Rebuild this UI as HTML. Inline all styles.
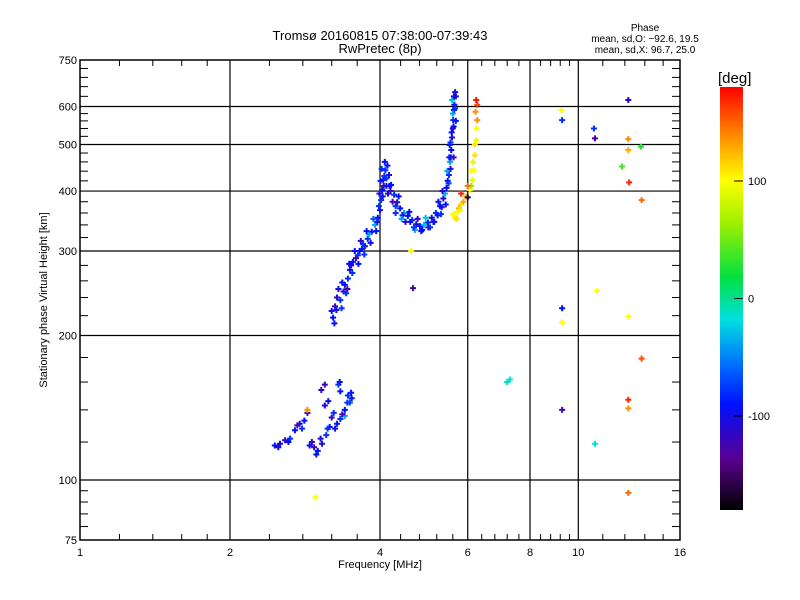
<!DOCTYPE html>
<html><head><meta charset="utf-8"><style>
body{margin:0;background:#fff;}
svg{display:block;font-family:"Liberation Sans",sans-serif;}
</style></head><body>
<svg id="chart" width="800" height="600" viewBox="0 0 800 600" xmlns="http://www.w3.org/2000/svg">
<defs>
<linearGradient id="cbar" x1="0" y1="1" x2="0" y2="0">
<stop offset="0" stop-color="#000000"/>
<stop offset="0.12" stop-color="#5a0090"/>
<stop offset="0.25" stop-color="#0010ff"/>
<stop offset="0.33" stop-color="#0060ff"/>
<stop offset="0.45" stop-color="#00e0e0"/>
<stop offset="0.55" stop-color="#00e040"/>
<stop offset="0.68" stop-color="#a0f000"/>
<stop offset="0.78" stop-color="#ffff00"/>
<stop offset="0.88" stop-color="#ff9000"/>
<stop offset="1" stop-color="#ff0000"/>
</linearGradient>
</defs>
<text x="380" y="40" font-size="13" text-anchor="middle">Tromsø 20160815 07:38:00-07:39:43</text>
<text x="380" y="53" font-size="13" text-anchor="middle">RwPretec (8p)</text>
<g font-size="10" text-anchor="middle">
<text x="645" y="31">Phase</text>
<text x="645" y="42">mean, sd,O: −92.6, 19.5</text>
<text x="645" y="53">mean, sd,X:  96.7, 25.0</text>
</g>
<g id="grid"></g>
<g id="marks"></g>
<g id="axes"></g>
<rect x="80" y="60" width="600" height="480" fill="none" stroke="#000" stroke-width="1.5"/>
<text x="380" y="568" font-size="11" text-anchor="middle">Frequency [MHz]</text>
<text x="0" y="0" font-size="11" text-anchor="middle" transform="translate(47,300) rotate(-90)">Stationary phase Virtual Height [km]</text>
<rect x="720" y="87" width="23" height="423" fill="url(#cbar)"/>
<text x="718" y="83" font-size="15">[deg]</text>
<g id="cbticks" font-size="11"></g>
</svg>
<script>
const xTickLabels=[1,2,4,6,8,10,16];
const xGrid=[2,4,6,8,10];
const xMinor=[1.2,1.4,1.6,1.8,2.4,2.8,3.2,3.6,4.4,4.8,5.2,5.6,6.4,6.8,7.2,7.6,8.4,8.8,9.2,9.6,11.2,12.4,13.6,14.8];
const yTickLabels=[75,100,200,300,400,500,600,750];
const yGrid=[100,200,300,400,500,600];
const yMinor=[80,85,90,95,120,140,160,180,220,240,260,280,320,340,360,380,420,440,460,480,520,540,560,580,630,660,690,720];
const cbTicks=[100,0,-100];
// echoes: frequency (MHz), height (km), phase (deg)
const freqs=[3.22,3.27,3.33,3.38,3.40,3.45,3.48,3.53,3.58,3.61,3.68,3.73,3.78,3.85,3.91,3.96,4.0,4.02,4.04,4.06,4.10,4.14,4.17,4.21,4.27,4.33,4.39,4.47,4.55,4.64,4.73,4.81,4.90,4.99,5.08,5.18,5.28,5.36,5.44,5.50,5.53,5.56,5.58,5.61,5.64,5.66,5.58,5.52,
3.25,3.30,3.42,3.50,3.64,3.70,3.80,3.95,4.05,4.08,4.12,4.20,4.30,4.44,4.60,4.70,4.86,5.00,5.12,5.22,5.32,5.40,5.47,5.55,5.60,5.63,5.68,
5.61,5.72,5.82,5.94,6.06,6.13,6.17,6.20,6.24,6.27,6.27,6.24,5.82,6.0,5.66,5.76,6.10,
2.46,2.52,2.58,2.64,2.70,2.76,2.82,2.86,2.89,2.95,3.0,3.06,3.12,3.17,3.25,3.33,3.40,3.48,3.51,3.10,3.10,3.30,3.33,3.20,3.40,2.86,3.45,
4.66,4.62,9.28,9.25,10.75,10.8,12.6,12.6,12.6,12.24,12.65,13.36,13.4,10.9,9.28,9.28,12.6,13.4,7.29,7.2,9.28,12.6,12.6,10.8,2.97,12.6,
3.20,3.24,3.28,3.35,3.36,3.44,3.47,3.52,3.56,3.62,3.66,3.72,3.76,3.83,3.88,3.93,3.98,3.99,4.01,4.03,4.07,4.09,4.12,4.15,4.18,4.24,4.30,4.36,4.42,4.50,4.58,4.68,4.76,4.84,4.94,5.04,5.14,5.24,5.30,5.34,5.42,5.46,5.49,5.51,5.54,5.57,5.54,5.60,5.62,5.63,5.66,5.68,5.62,
5.65,5.70,5.78,5.88,6.00,6.10,6.15,6.20,6.25,6.22,
2.50,2.62,2.73,2.79,2.92,2.98,3.04,3.14,3.28,3.36,3.44,3.50,3.05,3.15,3.32,3.23];
const heights=[218,226,237,247,255,263,274,285,290,294,303,307,318,329,340,352,365,383,402,422,442,452,432,412,393,379,368,360,355,348,341,338,340,344,352,360,372,386,406,432,460,487,517,562,605,643,619,499,
230,250,245,280,300,310,325,345,390,430,410,400,372,356,345,332,332,336,345,356,370,395,420,470,540,590,630,
358,362,375,390,402,422,442,475,511,562,605,619,395,388,352,368,410,
118,119,121,122,127,131,133,138,118,117,115,119,124,129,128,134,140,145,148,143,158,158,153,135,136,140,150,
251,300,562,590,540,515,619,513,487,450,417,495,383,248,228,213,219,179,162,160,140,147,141,119,92,94,
225,212,240,228,258,250,282,270,300,282,315,295,330,312,350,330,372,395,420,445,410,460,425,395,410,380,360,390,350,345,362,336,350,330,352,336,345,380,358,400,375,440,415,470,445,530,505,580,545,630,595,560,470,
355,350,365,380,410,440,460,500,540,585,
117,120,130,128,120,113,122,128,131,137,145,152,154,146,160,138];
const phases=[-110,-120,-100,-130,-110,-100,-120,-110,-140,-100,-110,-120,-100,-110,-60,-110,-120,-100,-110,-130,-100,-110,-120,-110,-100,-130,-110,-60,-110,-100,-120,-110,-50,-110,-120,-100,-110,-130,-110,-100,-60,-110,-120,-100,-110,-120,-50,-110,
-130,-120,-100,-140,-110,-100,-60,-110,-120,-100,-110,-140,-100,-120,-110,-60,-110,-130,-100,-110,-120,-60,-110,-100,-130,-110,-120,
100,95,110,120,100,90,100,110,95,140,160,175,170,-170,100,130,60,
-110,-120,-130,-100,-110,-120,-110,-130,-110,-140,-110,-120,-100,-110,-120,-100,-110,-90,-110,-120,-140,-100,-110,-130,-60,140,-100,
-140,100,-100,100,-100,-150,-130,140,130,30,170,20,150,100,-110,100,100,160,-40,-30,-140,170,140,-40,100,150,
-120,-110,-130,-100,-110,-140,-110,-100,-120,-110,-130,-100,-110,-120,-90,-110,-100,-120,-110,-100,-130,-110,-100,-120,-110,-140,-100,-110,-60,-120,-110,-100,-130,-110,-50,-100,-120,-110,-100,-130,-110,-60,-100,-110,-120,-110,-100,-60,-110,-120,-100,-110,-130,
100,110,95,130,150,100,90,110,100,140,
-120,-110,-140,-100,-130,-110,-120,-100,-110,-140,-100,-110,-130,-120,-110,-100];

const X0=80,X1=680,Y0=540,Y1=60,NS='http://www.w3.org/2000/svg';
const xS=f=>X0+(X1-X0)*Math.log2(f)/Math.log2(16);
const yS=h=>Y0-(Y0-Y1)*Math.log10(h/75)/Math.log10(10);
const cbY=p=>510-(p+180)/360*423;
function mk(tag,attrs,parent){const e=document.createElementNS(NS,tag);for(const k in attrs)e.setAttribute(k,attrs[k]);parent.appendChild(e);return e;}
const grid=document.getElementById('grid'),axes=document.getElementById('axes'),marks=document.getElementById('marks'),cbt=document.getElementById('cbticks');
xGrid.forEach(v=>{const l=mk('line',{x1:xS(v),x2:xS(v),y1:Y1,y2:Y0,stroke:'#000','stroke-width':1.2},grid);

});
yGrid.forEach(v=>{const l=mk('line',{x1:X0,x2:X1,y1:yS(v),y2:yS(v),stroke:'#000','stroke-width':1.2},grid);

});
xMinor.forEach(v=>{const x=xS(v);
const a=mk('line',{x1:x,x2:x,y1:Y0,y2:Y0-6,stroke:'#000'},axes);


const b=mk('line',{x1:x,x2:x,y1:Y1,y2:Y1+6,stroke:'#000'},axes);

});
yMinor.forEach(v=>{const y=yS(v);
const a=mk('line',{x1:X0,x2:X0+8,y1:y,y2:y,stroke:'#000'},axes);


const b=mk('line',{x1:X1,x2:X1-8,y1:y,y2:y,stroke:'#000'},axes);

});
xTickLabels.forEach(v=>{const t=mk('text',{x:xS(v),y:Y0+16,'font-size':11,'text-anchor':'middle'},axes);t.textContent=v;

});
yTickLabels.forEach(v=>{const t=mk('text',{x:X0-3,y:yS(v)+4,'font-size':11,'text-anchor':'end'},axes);t.textContent=v;

});
cbTicks.forEach(v=>{const y=cbY(v);
const l=mk('line',{x1:734,x2:743,y1:y,y2:y,stroke:'#000'},cbt);


const t=mk('text',{x:748,y:y+4},cbt);t.textContent=v;

});
const stops=[[-180,0,0,0],[-150,90,0,144],[-110,0,16,255],[-85,0,96,255],[-40,0,224,224],[10,0,224,64],[60,160,240,0],[100,255,255,0],[140,255,144,0],[180,255,0,0]];
function col(p){for(let i=1;i<stops.length;i++){if(p<=stops[i][0]){const a=stops[i-1],b=stops[i],t=(p-a[0])/(b[0]-a[0]);
return 'rgb('+[1,2,3].map(k=>Math.round(a[k]+(b[k]-a[k])*t)).join(',')+')';}}return 'rgb(255,0,0)';}
for(let i=0;i<freqs.length;i++){const x=xS(freqs[i]),y=yS(heights[i]),c=col(phases[i]);
const p=mk('path',{d:`M${x-3} ${y}H${x+3}M${x} ${y-3}V${y+3}`,stroke:c,'stroke-width':2,fill:'none'},marks);

}
</script>
</body></html>
